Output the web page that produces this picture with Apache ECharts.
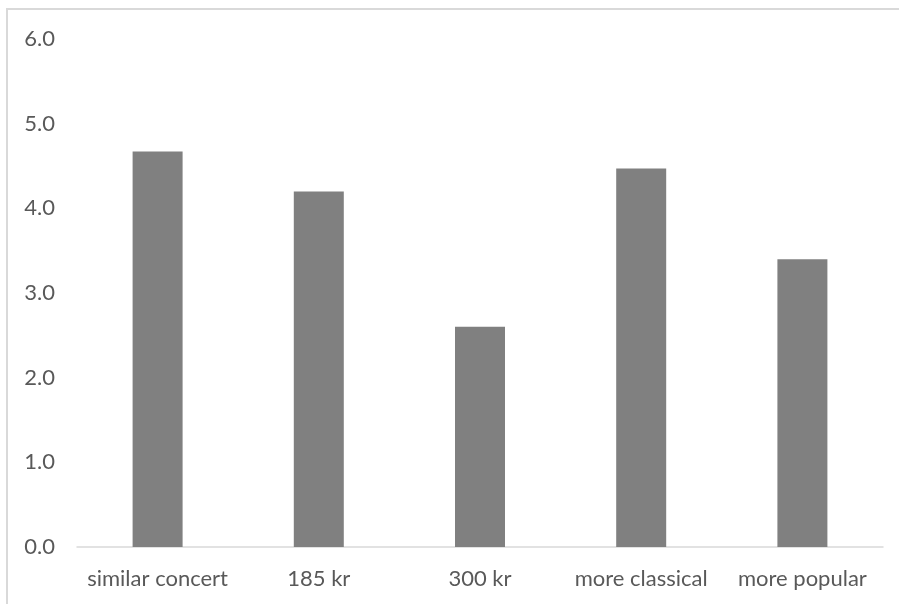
<!DOCTYPE html>
<html>
<head>
<meta charset="utf-8">
<script src="https://cdn.jsdelivr.net/npm/echarts@6/dist/echarts.min.js"></script>
<style>
html,body{margin:0;padding:0;background:#fff;}
#c{width:899px;height:604px;}
</style>
</head>
<body>
<div id="c"></div>
<script>
const categories = ["similar concert", "185 kr", "300 kr", "more classical", "more popular"];
const values = [4.67, 4.2, 2.6, 4.47, 3.4];
const yMin = 0, yMax = 6, yInterval = 1;

const chart = echarts.init(document.getElementById('c'), null, {renderer: 'canvas'});
const font = 'Lato, "Open Sans", sans-serif';
chart.setOption({
  animation: false,
  backgroundColor: '#ffffff',
  graphic: [{
    type: 'rect',
    shape: {x: 7, y: 9, width: 1200, height: 1200},
    style: {fill: 'none', stroke: '#d9d9d9', lineWidth: 2},
    silent: true
  }],
  grid: {left: 77, right: 16, top: 39, bottom: 57, containLabel: false},
  xAxis: {
    type: 'category',
    data: categories,
    axisLine: {show: true, lineStyle: {color: '#d9d9d9', width: 1.5}},
    axisTick: {show: false},
    axisLabel: {color: '#595959', fontSize: 22, fontFamily: font, margin: 21, interval: 0}
  },
  yAxis: {
    type: 'value',
    min: yMin, max: yMax, interval: yInterval,
    splitLine: {show: false},
    axisLine: {show: false},
    axisTick: {show: false},
    axisLabel: {color: '#595959', fontSize: 22, fontFamily: font, margin: 22,
      formatter: v => v.toFixed(1)}
  },
  series: [{
    type: 'bar',
    data: values,
    barWidth: 50,
    itemStyle: {color: '#808080'}
  }]
});
</script>
</body>
</html>
